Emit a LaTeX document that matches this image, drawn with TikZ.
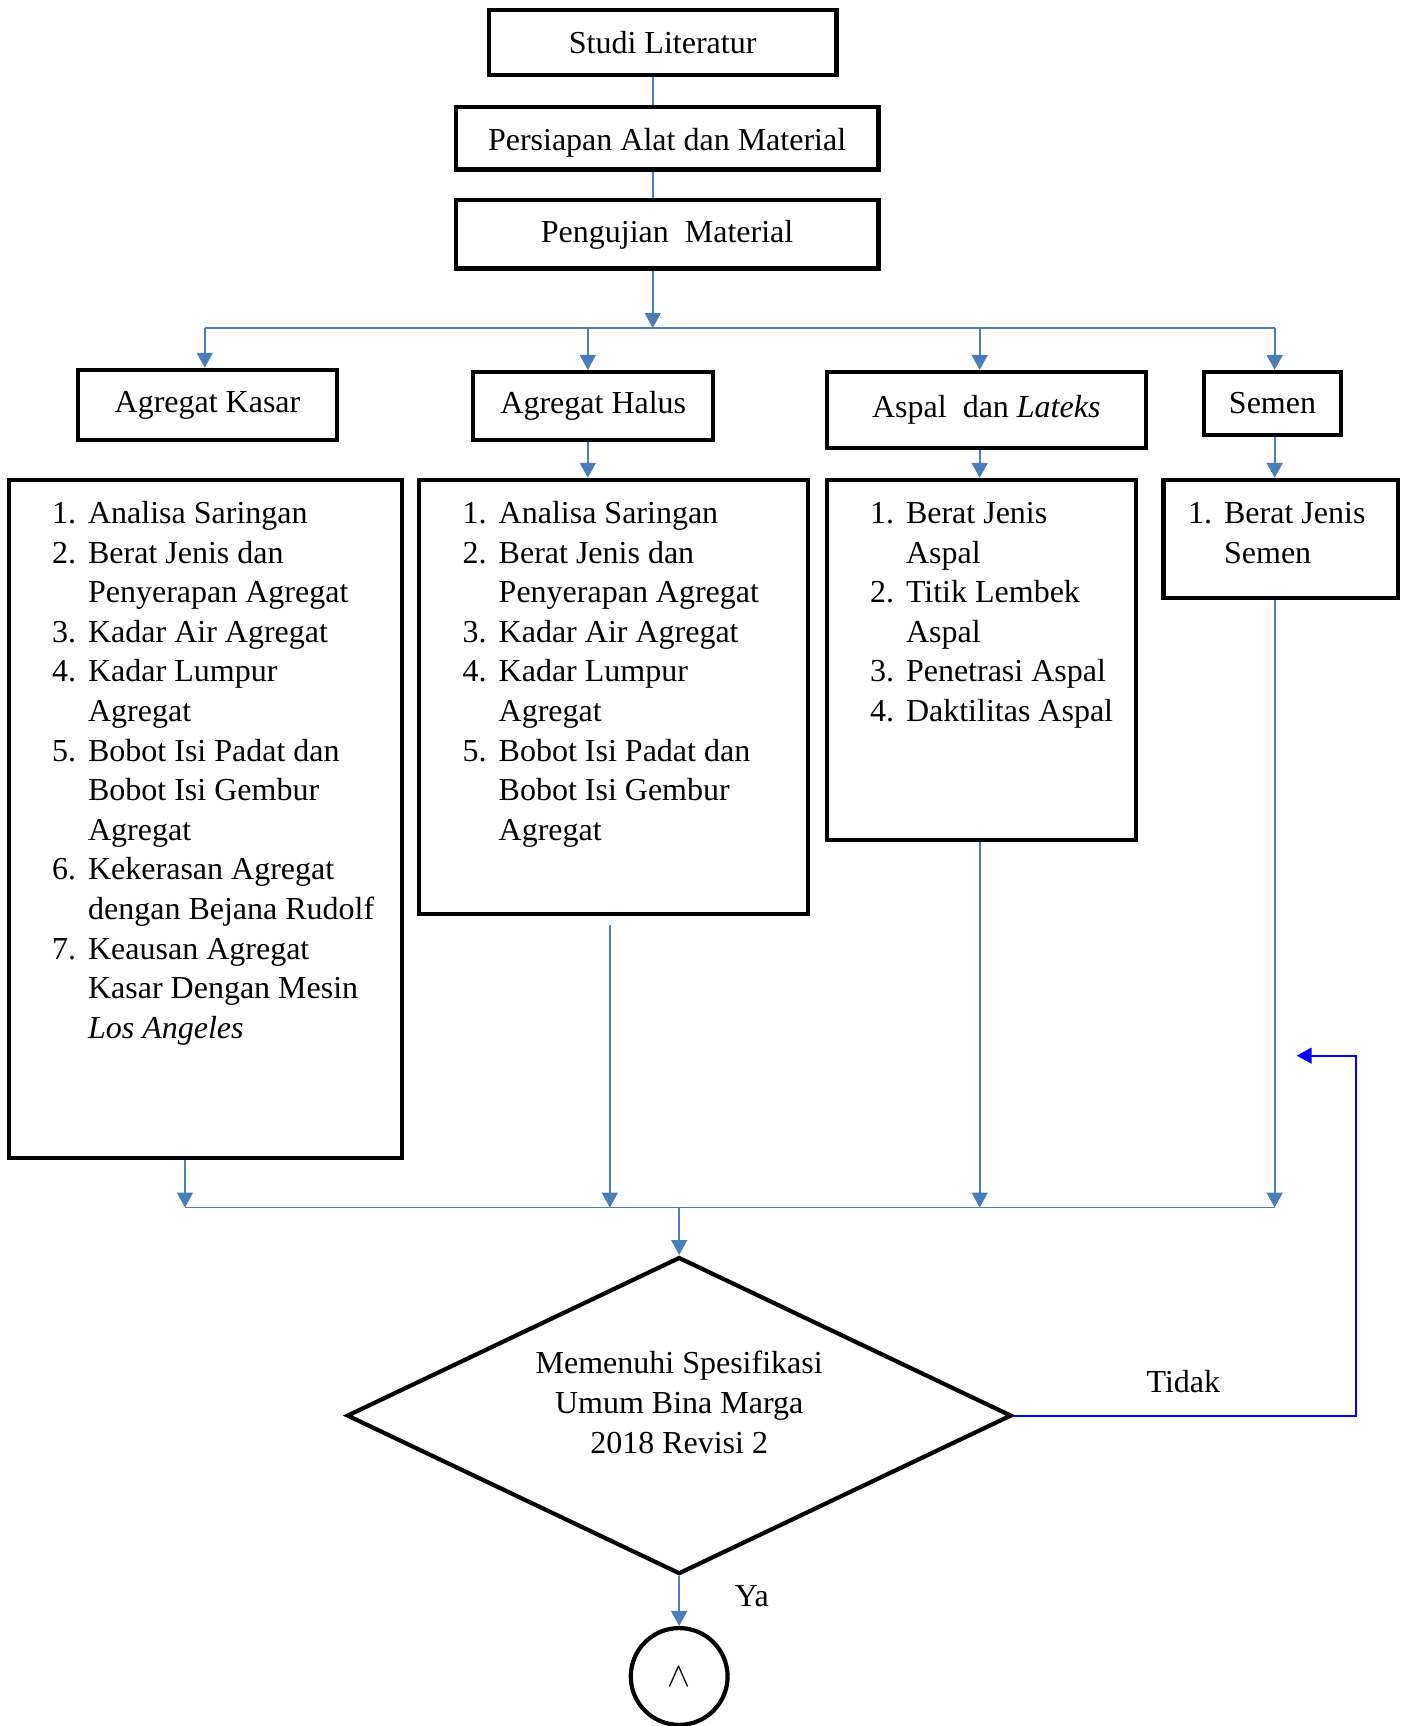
\documentclass[tikz,border=0pt]{standalone}
\usepackage{fontspec}
\setmainfont{Liberation Serif}
\usetikzlibrary{arrows.meta,shapes.geometric}

\begin{document}
\begin{tikzpicture}[x=0.5504pt,y=0.5504pt,yscale=-1,xscale=1,
  every node/.style={font=\fontsize{16}{19.8}\selectfont},
  box/.style={draw,line width=2.1pt,inner sep=0pt},
  link/.style={color={rgb, 255:red, 74; green, 126; blue, 187},line width=0.9pt},
  arr/.style={link,-{Triangle[length=7.5pt,width=8pt]}},
  loopback/.style={color={rgb, 255:red, 0; green, 0; blue, 255},line width=0.9pt,-{Triangle[length=7.5pt,width=8pt]}},
  items/.style={anchor=north west,inner sep=0pt,align=left}
]
\useasboundingbox (0,0) rectangle (1280,1568);

% Boxes
\node[box,minimum width=173.9pt,minimum height=32.5pt] (studi) at (602,38.5) {Studi Literatur};
\node[box,minimum width=211.4pt,minimum height=31.4pt,text height=14pt,text depth=1.8pt] (persiapan) at (606,125.5) {Persiapan Alat dan Material};
\node[box,minimum width=211.4pt,minimum height=34.1pt] (uji) at (606,213) {Pengujian\ \ Material};
\node[box,minimum width=129.3pt,minimum height=35.2pt] (kasar) at (188.5,368) {Agregat Kasar};
\node[box,minimum width=120pt,minimum height=34.1pt] (halus) at (539,369) {Agregat Halus};
\node[box,minimum width=159.6pt,minimum height=38pt] (aspal) at (896,372.5) {Aspal\ \ dan \textit{Lateks}};
\node[box,minimum width=68.2pt,minimum height=31.4pt] (semen) at (1156,366.5) {Semen};
\node[box,minimum width=196.5pt,minimum height=339pt] (uji1) at (186.5,744) {};
\node[box,minimum width=194.3pt,minimum height=216.9pt] (uji2) at (557.5,633) {};
\node[box,minimum width=154.7pt,minimum height=180pt] (uji3) at (891.5,599.5) {};
\node[box,minimum width=117.2pt,minimum height=58.9pt] (uji4) at (1163.5,489.5) {};
\node[box,diamond,aspect=2.1,minimum width=332.4pt,minimum height=158.5pt] (dec) at (617,1286) {};
\node[box,circle,minimum size=48.4pt] (akhir) at (617,1523) {{\fontsize{17}{19}\selectfont$\wedge$}};

% Text Node
\node[items] (kasarUji) at (47,450) {\begin{tabular}{@{}r@{\hspace{6pt}}l@{}}
1. & Analisa Saringan\\
2. & Berat Jenis dan\\
   & Penyerapan Agregat\\
3. & Kadar Air Agregat\\
4. & Kadar Lumpur\\
   & Agregat\\
5. & Bobot Isi Padat dan\\
   & Bobot Isi Gembur\\
   & Agregat\\
6. & Kekerasan Agregat\\
   & dengan Bejana Rudolf\\
7. & Keausan Agregat\\
   & Kasar Dengan Mesin\\
   & \textit{Los Angeles}
\end{tabular}};
% Text Node
\node[items] (halusUji) at (420,450) {\begin{tabular}{@{}r@{\hspace{6pt}}l@{}}
1. & Analisa Saringan\\
2. & Berat Jenis dan\\
   & Penyerapan Agregat\\
3. & Kadar Air Agregat\\
4. & Kadar Lumpur\\
   & Agregat\\
5. & Bobot Isi Padat dan\\
   & Bobot Isi Gembur\\
   & Agregat
\end{tabular}};
% Text Node
\node[items] (aspalUji) at (790,450) {\begin{tabular}{@{}r@{\hspace{6pt}}l@{}}
1. & Berat Jenis\\
   & Aspal\\
2. & Titik Lembek\\
   & Aspal\\
3. & Penetrasi Aspal\\
4. & Daktilitas Aspal
\end{tabular}};
% Text Node
\node[items] (semenUji) at (1079,450) {\begin{tabular}{@{}r@{\hspace{6pt}}l@{}}
1. & Berat Jenis\\
   & Semen
\end{tabular}};
% Text Node
\node[align=center,inner sep=0pt] (decText) at (617,1274) {Memenuhi Spesifikasi\\Umum Bina Marga\\2018 Revisi 2};
\node (tidak) at (1075,1255) {Tidak};
\node (ya) at (683,1450) {Ya};

% Connectors
\coordinate (ax) at (593,0);
\coordinate (hx) at (534,0);
\coordinate (sx) at (890,0);
\coordinate (busL) at (186,298);
\coordinate (busR) at (1158,298);
\coordinate (halusOut) at (554,840);
\coordinate (jl) at (168,1097);
\coordinate (jr) at (1158,1097);
\coordinate (busB) at (617,1097);
\coordinate (retCorner) at (1232,959);
\coordinate (ret) at (1178,959);

\draw[link] (studi.south -| ax) -- (persiapan.north -| ax);
\draw[link] (persiapan.south -| ax) -- (uji.north -| ax);
\draw[arr] (uji.south -| ax) -- (busL -| ax);
\draw[link] (busL) -- (busR);
\draw[arr] (busL) -- (kasar.north -| busL);
\draw[arr] (hx |- busL) -- (hx |- halus.north);
\draw[arr] (sx |- busL) -- (sx |- aspal.north);
\draw[arr] (busR) -- (semen.north -| busR);
\draw[arr] (halus.south -| hx) -- (hx |- uji2.north);
\draw[arr] (aspal.south -| sx) -- (sx |- uji3.north);
\draw[arr] (semen.south -| busR) -- (busR |- uji4.north);

\draw[arr] (uji1.south -| jl) -- (jl);
\draw[arr] (halusOut) -- (halusOut |- jl);
\draw[arr] (uji3.south -| sx) -- (sx |- jl);
\draw[arr] (uji4.south -| jr) -- (jr);
\draw[link] (jl) -- (jr);
\draw[arr] (busB) -- (dec.north);
\draw[arr] (dec.south) -- (akhir.north);
\draw[loopback] (dec.east) -| (retCorner) -- (ret);
\end{tikzpicture}
\end{document}
